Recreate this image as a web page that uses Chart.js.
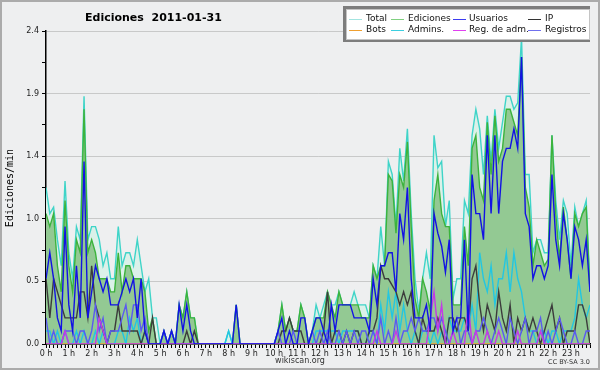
<!DOCTYPE html>
<html>
<head>
<meta charset="utf-8">
<script src="https://cdn.jsdelivr.net/npm/chart.js@4.4.1/dist/chart.umd.min.js"></script>
<style>
  html, body { margin: 0; padding: 0; background: #eeeff0; }
  canvas { display: block; }
</style>
</head>
<body>
<canvas id="chartEdits" width="600" height="370"></canvas>
<script>
// one value per 10 minutes, 0h00 .. 23h50 (edits per minute)
const hourLabels = ['0 h','1 h','2 h','3 h','4 h','5 h','6 h','7 h','8 h','9 h','10 h','11 h',
  '12 h','13 h','14 h','15 h','16 h','17 h','18 h','19 h','20 h','21 h','22 h','23 h'];

const total = [
  1.2,1.0,1.05,0.8,0.6,1.25, 0.7,0.5,0.9,0.8,1.9,0.8, 0.9,0.9,0.8,0.6,0.7,0.5, 0.5,0.9,0.6,0.7,0.7,0.6,
  0.8,0.6,0.4,0.5,0.2,0.2, 0,0.1,0,0.1,0,0.3, 0.2,0.4,0.2,0.2,0,0, 0,0,0,0,0,0,
  0.1,0,0.3,0,0,0, 0,0,0,0,0,0, 0,0.1,0.3,0.1,0.2,0.1, 0.1,0.3,0.2,0,0.1,0.3,
  0.2,0.3,0.4,0.3,0.3,0.4, 0.3,0.3,0.3,0.4,0.3,0.3, 0.3,0.2,0.6,0.5,0.9,0.6, 1.4,1.3,0.9,1.5,1.25,1.65,
  1.0,0.5,0.25,0.5,0.7,0.5, 1.6,1.35,1.4,0.9,1.1,0.35, 0.5,0.5,1.1,1.0,1.6,1.8, 1.65,1.3,1.75,1.4,1.8,1.5,
  1.7,1.9,1.9,1.8,1.85,2.35, 1.3,1.3,0.7,0.8,0.8,0.7, 0.7,1.6,1.1,0.8,1.1,1.0, 0.6,1.05,0.9,1.0,1.1,0.45
];
const ediciones = [
  1.0,0.9,1.0,0.6,0.4,1.1, 0.6,0.4,0.8,0.7,1.8,0.7, 0.8,0.7,0.5,0.5,0.5,0.4, 0.4,0.7,0.4,0.6,0.6,0.5,
  0.5,0.5,0.4,0.1,0.2,0, 0,0.1,0,0.1,0,0.3, 0.2,0.4,0.2,0.2,0,0, 0,0,0,0,0,0,
  0,0,0.3,0,0,0, 0,0,0,0,0,0, 0,0.1,0.3,0.1,0.2,0.1, 0.1,0.3,0.2,0,0.1,0.2,
  0.2,0.2,0.4,0.3,0.2,0.4, 0.3,0.3,0.3,0.3,0.3,0.2, 0.2,0.2,0.6,0.5,0.6,0.6, 1.3,1.25,0.85,1.3,1.2,1.55,
  0.9,0.35,0.2,0.5,0.4,0.25, 1.1,1.3,1.0,0.9,0.9,0.3, 0.3,0.3,0.9,0.6,1.5,1.6, 1.2,1.1,1.7,1.3,1.75,1.4,
  1.5,1.8,1.8,1.7,1.6,2.2, 1.2,1.05,0.6,0.8,0.7,0.6, 0.65,1.6,1.0,0.65,1.05,0.8, 0.5,1.0,0.9,1.0,1.05,0.4
];
const usuarios = [
  0.5,0.7,0.5,0.2,0.1,0.9, 0.3,0.1,0.6,0.2,1.4,0.2, 0.4,0.6,0.5,0.4,0.5,0.3, 0.3,0.3,0.4,0.5,0.4,0.5,
  0.2,0.5,0.1,0,0,0, 0,0.1,0,0.1,0,0.3, 0.1,0.3,0.1,0,0,0, 0,0,0,0,0,0,
  0,0,0.3,0,0,0, 0,0,0,0,0,0, 0,0.1,0.2,0,0.1,0, 0,0.2,0.2,0,0.1,0.2,
  0.2,0.1,0,0.3,0.1,0.3, 0.3,0.3,0.3,0.2,0.2,0.2, 0.2,0.1,0.5,0.3,0.6,0.6, 0.7,0.7,0.4,1.0,0.8,1.2,
  0.5,0.2,0.2,0.2,0.3,0.1, 1.0,0.85,0.75,0.55,0.8,0.1, 0.2,0.2,0.8,0.1,1.3,1.0, 1.0,0.8,1.6,1.0,1.6,1.0,
  1.4,1.5,1.5,1.65,1.5,2.2, 1.0,0.9,0.5,0.6,0.6,0.5, 0.6,1.3,0.8,0.6,1.0,0.8, 0.5,0.9,0.8,0.6,0.8,0.4
];
const ip = [
  0.5,0.2,0.5,0.4,0.3,0.2, 0.2,0.2,0.2,0.4,0.4,0.2, 0.6,0.3,0.2,0.1,0,0.1, 0.1,0.3,0.1,0.1,0.1,0.1,
  0.1,0,0.1,0,0.2,0, 0,0,0,0,0,0, 0,0.1,0,0.1,0,0, 0,0,0,0,0,0,
  0,0,0,0,0,0, 0,0,0,0,0,0, 0,0,0.1,0.1,0.2,0.1, 0.1,0.1,0,0,0,0,
  0,0.1,0.4,0,0.1,0.1, 0,0.1,0,0.1,0.1,0, 0,0.1,0.1,0.2,0.6,0.5, 0.5,0.45,0.4,0.3,0.4,0.3,
  0.4,0.1,0,0.2,0.1,0.1, 0.1,0.2,0.1,0,0.2,0.2, 0.1,0.2,0.2,0.1,0.5,0.6, 0.3,0.1,0.3,0.2,0.1,0.4,
  0.2,0.1,0.3,0,0.2,0.1, 0.2,0.1,0.2,0.1,0,0.1, 0.2,0.3,0.1,0.2,0,0.1, 0.1,0.1,0.3,0.3,0.2,0
];
const bots = [
  0,0,0,0,0,0, 0,0,0,0,0,0, 0,0,0,0,0,0, 0,0,0,0,0,0,
  0,0,0,0,0,0, 0,0,0,0,0,0, 0,0,0,0,0,0, 0,0,0,0,0,0,
  0,0,0,0,0,0, 0,0,0,0,0,0, 0,0,0,0,0,0, 0,0,0,0,0,0,
  0,0,0,0,0,0, 0,0,0,0,0,0, 0,0,0,0,0,0, 0,0,0,0,0,0,
  0,0,0,0,0,0, 0,0,0,0,0,0, 0,0,0,0,0,0, 0,0,0,0,0,0,
  0,0,0,0,0,0, 0,0,0,0,0,0, 0,0,0,0,0,0, 0,0,0,0,0,0
];
const admins = [
  0.1,0.1,0,0.1,0,0.1, 0,0,0.1,0,0.1,0, 0,0.1,0,0.1,0,0, 0,0.1,0.1,0,0.2,0.1,
  0.2,0,0.1,0,0,0, 0,0,0,0,0,0, 0,0,0,0,0,0, 0,0,0,0,0,0,
  0.1,0,0,0,0,0, 0,0,0,0,0,0, 0,0,0,0,0,0, 0,0,0,0,0,0.1,
  0.1,0.1,0.1,0.1,0.1,0, 0.1,0.1,0.1,0.1,0.1,0, 0,0.1,0.1,0,0.3,0.1, 0.4,0.2,0.4,0.1,0.3,0.1,
  0,0.1,0,0.1,0.1,0, 0.1,0,0.1,0,0.2,0.1, 0.1,0.1,0.2,0.1,0.3,0.1, 0.7,0.5,0.4,0.6,0.3,0.5,
  0.5,0.7,0.4,0.7,0.5,0.4, 0.2,0.1,0.1,0,0.1,0.1, 0,0.1,0.1,0,0.1,0.1, 0.1,0.2,0.5,0.3,0.2,0.3
];
const regAdm = [
  0,0,0,0,0,0.1, 0,0,0,0,0,0, 0,0,0.2,0.1,0,0, 0,0,0,0,0,0,
  0,0,0,0,0,0, 0,0,0,0,0,0, 0,0,0,0,0,0, 0,0,0,0,0,0,
  0,0,0,0,0,0, 0,0,0,0,0,0, 0,0,0,0,0,0, 0,0,0,0,0,0,
  0,0,0,0,0,0, 0,0,0,0,0,0, 0,0,0,0.1,0,0, 0,0,0.1,0,0,0,
  0,0,0,0,0,0.2, 0.4,0.1,0.3,0,0,0.1, 0,0,0,0.3,0,0.1, 0,0,0.1,0,0,0.1,
  0,0,0,0,0.1,0, 0,0,0,0,0.1,0, 0,0,0,0,0,0, 0,0,0,0,0,0
];
const registros = [
  0.2,0,0.1,0,0,0.1, 0.1,0.1,0,0.1,0.1,0, 0.1,0.3,0.1,0.2,0,0.1, 0.1,0.1,0.2,0.3,0.1,0.3,
  0.3,0.1,0.2,0,0,0, 0,0.1,0,0.1,0,0, 0,0,0,0,0,0, 0,0,0,0,0,0,
  0,0,0,0,0,0, 0,0,0,0,0,0, 0,0.1,0,0,0,0.1, 0,0,0,0,0.1,0,
  0.1,0,0.1,0,0,0.1, 0,0.1,0,0.1,0,0.1, 0.1,0,0.1,0,0.2,0, 0.1,0,0.2,0,0.1,0.1,
  0.2,0.1,0.2,0.1,0.1,0.2, 0.2,0.1,0.2,0.1,0,0.1, 0.2,0,0.1,0.1,0,0.1, 0.1,0.2,0.1,0,0.1,0.2,
  0.1,0,0.2,0.1,0,0.1, 0.2,0,0.1,0.1,0.2,0, 0.1,0,0.1,0.2,0.1,0, 0,0.1,0,0,0.1,0.1
];

const slots = total.map((_, i) => i);

// legend drawn by hand, 4 columns x 2 rows like the original
const legendItems = [
  ['Total', '#a3e4e0'], ['Ediciones', '#80d080'], ['Usuarios', '#3b3bf0'], ['IP', '#333333'],
  ['Bots', '#f0a030'], ['Admins.', '#3ccfe0'], ['Reg. de adm.', '#e040f0'], ['Registros', '#7070ee']
];

const decor = {
  id: 'decor',
  beforeDraw(chart) {
    const c = chart.ctx;
    c.save();
    c.fillStyle = '#eeeff0';
    c.fillRect(0, 0, chart.width, chart.height);
    c.restore();
  },
  afterDraw(chart) {
    const c = chart.ctx;
    c.save();
    // outer frame
    c.strokeStyle = '#ababab';
    c.lineWidth = 2;
    c.strokeRect(1, 1, 598, 368);

    // title
    c.fillStyle = '#000';
    c.textBaseline = 'middle';
    c.textAlign = 'left';
    c.font = 'bold 11px "DejaVu Sans"';
    c.fillText('Ediciones  2011-01-31', 85, 18);

    // y title
    c.save();
    c.translate(10, 188);
    c.rotate(-Math.PI / 2);
    c.textAlign = 'center';
    c.font = '10px "DejaVu Sans Mono"';
    c.fillText('Ediciones/min', 0, 0);
    c.restore();

    // footer
    c.fillStyle = '#333';
    c.textAlign = 'center';
    c.font = '8px "DejaVu Sans"';
    c.fillText('wikiscan.org', 300, 361);
    c.textAlign = 'right';
    c.font = '6.5px "DejaVu Sans"';
    c.fillText('CC BY-SA 3.0', 590, 362);

    // legend box
    c.fillStyle = '#7d7d7d';
    c.fillRect(343, 6, 247, 36);
    c.fillStyle = '#ffffff';
    c.fillRect(346, 9, 244, 31);
    c.strokeStyle = '#c4c4c4';
    c.lineWidth = 1;
    c.strokeRect(346.5, 9.5, 243, 30);

    const lineX = [349, 391, 453, 528];
    const textX = [366, 408, 469, 545];
    const rowY = [19, 29.5];
    c.textAlign = 'left';
    c.font = '9px "DejaVu Sans"';
    legendItems.forEach(([name, color], k) => {
      const col = k % 4, row = Math.floor(k / 4);
      c.strokeStyle = color;
      c.beginPath();
      c.moveTo(lineX[col], Math.round(rowY[row]) + 0.5);
      c.lineTo(lineX[col] + 13, Math.round(rowY[row]) + 0.5);
      c.stroke();
      c.fillStyle = '#111';
      c.fillText(name, textX[col], rowY[row]);
    });
    c.restore();
  }
};

function lineSet(label, data, color, order, extra) {
  return Object.assign({
    label: label,
    data: data,
    borderColor: color,
    borderWidth: 1.4,
    pointRadius: 0,
    tension: 0,
    fill: false,
    order: order
  }, extra || {});
}

Chart.defaults.font.family = '"DejaVu Sans"';

const ctx = document.getElementById('chartEdits');
const chartEdits = new Chart(ctx, {
  type: 'line',
  data: {
    labels: slots,
    datasets: [
      lineSet('Total', total, '#3fd4c8', 10, { fill: 'origin', backgroundColor: '#dbf1e9' }),
      lineSet('Ediciones', ediciones, '#3cb33c', 9, { fill: 'origin', backgroundColor: '#93c993' }),
      lineSet('Bots', bots, '#f0a030', 8),
      lineSet('Admins.', admins, '#22c6e2', 7),
      lineSet('IP', ip, '#3c3c3c', 6),
      lineSet('Registros', registros, '#5a5af0', 5),
      lineSet('Reg. de adm.', regAdm, '#c43ae6', 4),
      lineSet('Usuarios', usuarios, '#1212e4', 3)
    ]
  },
  options: {
    responsive: false,
    animation: false,
    layout: { padding: { left: 0, right: 10, top: 31, bottom: 0 } },
    plugins: {
      legend: { display: false },
      tooltip: { enabled: false }
    },
    scales: {
      x: {
        type: 'linear',
        min: 0,
        max: 143,
        z: 1,
        border: { color: '#000', width: 1.5 },
        grid: { drawOnChartArea: false, tickLength: 4, color: '#000' },
        ticks: {
          stepSize: 1,
          autoSkip: false,
          maxRotation: 0,
          padding: 1,
          color: '#222',
          font: { size: 8 },
          callback: (v) => (v % 6 === 0 ? hourLabels[v / 6] : '')
        },
        afterFit: (s) => { s.height = 26; }
      },
      y: {
        min: 0,
        max: 2.4,
        z: 1,
        border: { color: '#000', width: 1.5 },
        grid: {
          color: (c) => (c.index % 2 === 0 ? 'rgba(175,175,175,0.6)' : 'rgba(0,0,0,0)'),
          tickColor: '#000',
          tickLength: 4
        },
        ticks: {
          stepSize: 0.24,
          padding: 3,
          color: '#222',
          font: { size: 8 },
          callback: (v, i) => (i % 2 === 0 ? v.toFixed(1) : '')
        },
        afterFit: (s) => { s.width = 46; }
      }
    }
  },
  plugins: [decor]
});
</script>
</body>
</html>
